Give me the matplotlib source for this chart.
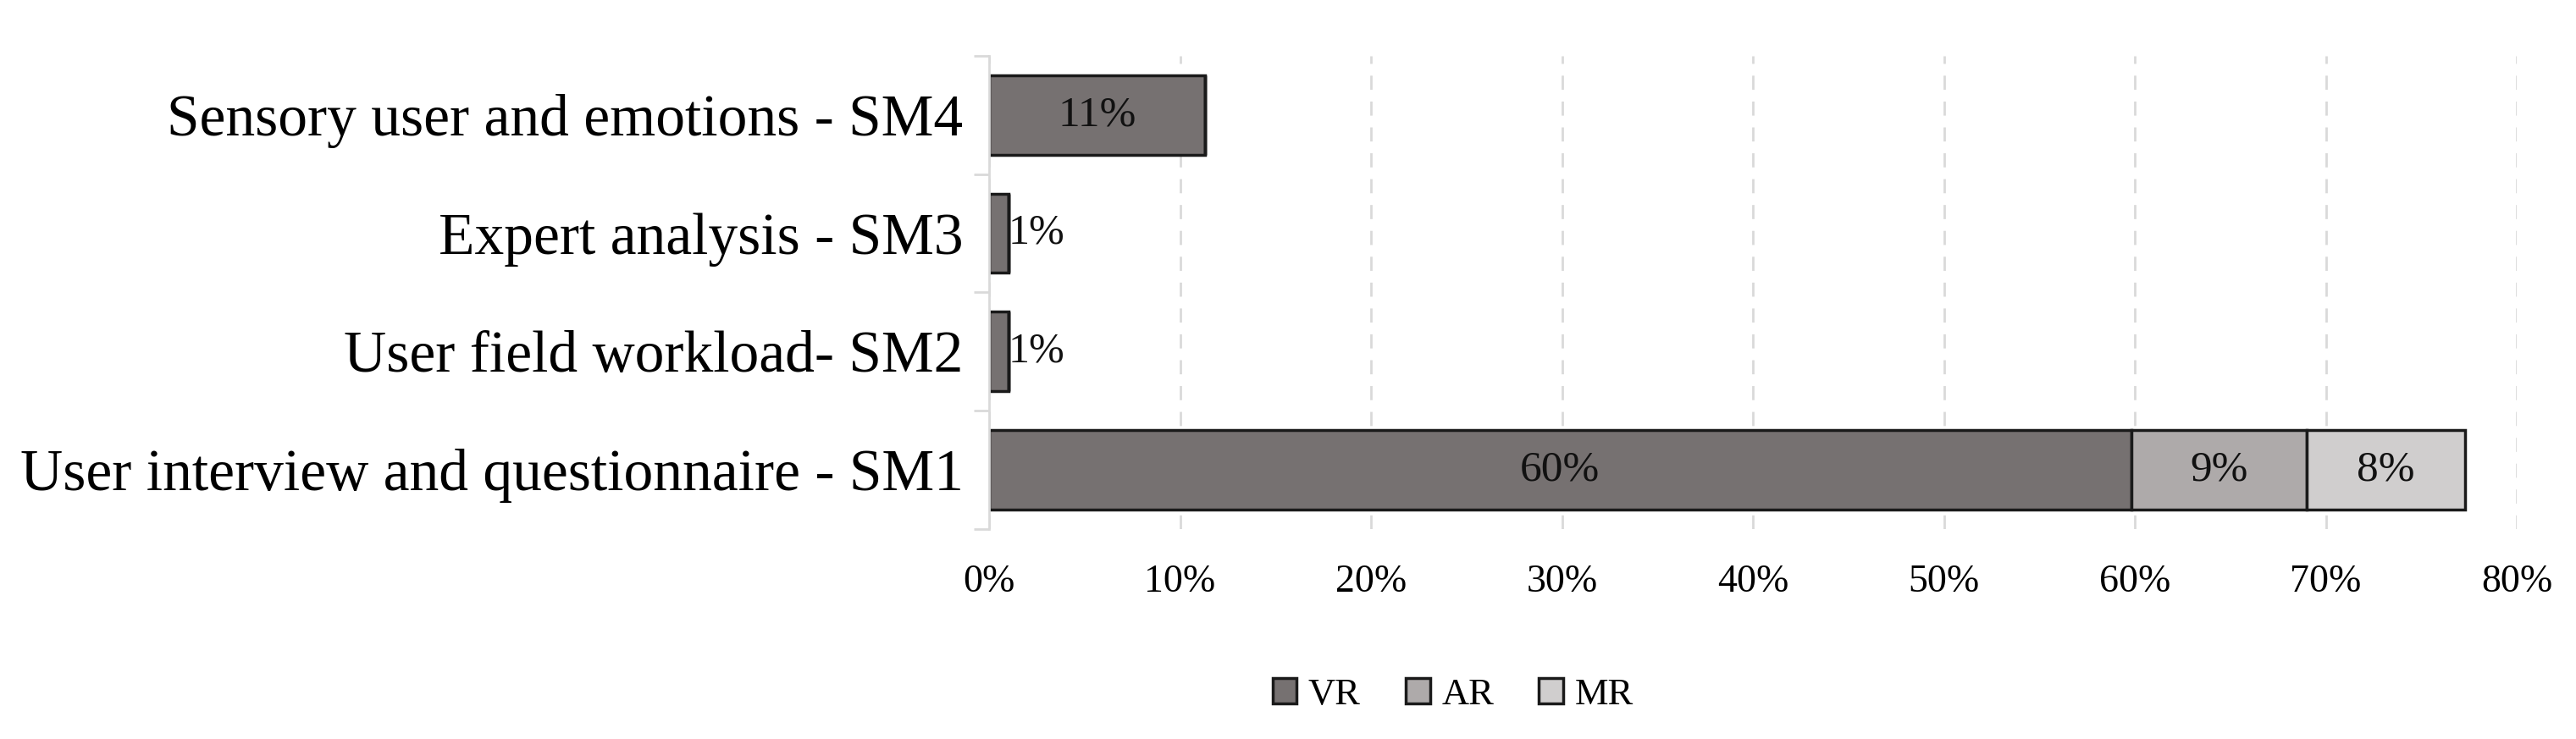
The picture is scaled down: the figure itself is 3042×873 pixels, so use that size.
import numpy as np
import matplotlib
matplotlib.use("Agg")
import matplotlib.pyplot as plt
from matplotlib.patches import Patch

# data (bottom to top)
categories = ['User interview and questionnaire - SM1',
              'User field workload- SM2',
              'Expert analysis - SM3',
              'Sensory user and emotions - SM4']
vr = [59.8, 1.0, 1.0, 11.3]
ar = [9.2, 0.0, 0.0, 0.0]
mr = [8.3, 0.0, 0.0, 0.0]
series_names = ['VR', 'AR', 'MR']
xticks = [0, 10, 20, 30, 40, 50, 60, 70, 80]

colors = ['#767171', '#AEAAAA', '#D0CECE']
plt.rcParams['font.family'] = ['Liberation Serif', 'DejaVu Serif']

fig = plt.figure(figsize=(30.42, 8.73), dpi=100)
ax = fig.add_axes([0.384, 0.2844, 0.593, 0.64])

y = np.arange(len(categories))
left = np.zeros(len(categories))
for vals, c in zip([vr, ar, mr], colors):
    vals = np.array(vals)
    ax.barh(y, vals, left=left, height=0.67, color=c, edgecolor='#1a1a1a',
            linewidth=2.5, zorder=3)
    for yi, (l, v) in enumerate(zip(left, vals)):
        if v <= 0:
            continue
        if v < 3:
            ax.text(l + v, yi, '%d%%' % round(v), ha='left', va='center',
                    fontsize=36, color='#111111', zorder=4)
        else:
            ax.text(l + v / 2, yi, '%d%%' % round(v), ha='center', va='center',
                    fontsize=37, color='#111111', zorder=4)
    left = left + vals

ax.set_xlim(0, 80)
ax.set_ylim(-0.5, 3.5)
ax.set_xticks(xticks)
ax.set_xticklabels(['%d%%' % t for t in xticks], fontsize=33)
ax.set_yticks(y)
ax.set_yticklabels(categories, fontsize=50)
ax.set_yticks(np.arange(-0.5, 4, 1.0), minor=True)
ax.tick_params(axis='y', which='major', length=0, pad=22)
ax.tick_params(axis='y', which='minor', length=13, width=2, color='#D9D9D9')
ax.tick_params(axis='x', length=0, pad=30)

ax.grid(axis='x', color='#D9D9D9', linestyle=(0, (6, 5)), linewidth=2, zorder=0)
for s in ['top', 'right', 'bottom']:
    ax.spines[s].set_visible(False)
ax.spines['left'].set_color('#D9D9D9')
ax.spines['left'].set_linewidth(2)
ax.spines['left'].set_zorder(5)

handles = [Patch(facecolor=c, edgecolor='#1a1a1a', linewidth=2.5) for c in colors]
fig.legend(handles, series_names, loc='center', bbox_to_anchor=(0.564, 0.06),
           ncol=3, frameon=False, fontsize=32, handlelength=0.65, handleheight=0.65,
           handletextpad=0.3, columnspacing=1.2)

fig.savefig('out.png', dpi=100)
